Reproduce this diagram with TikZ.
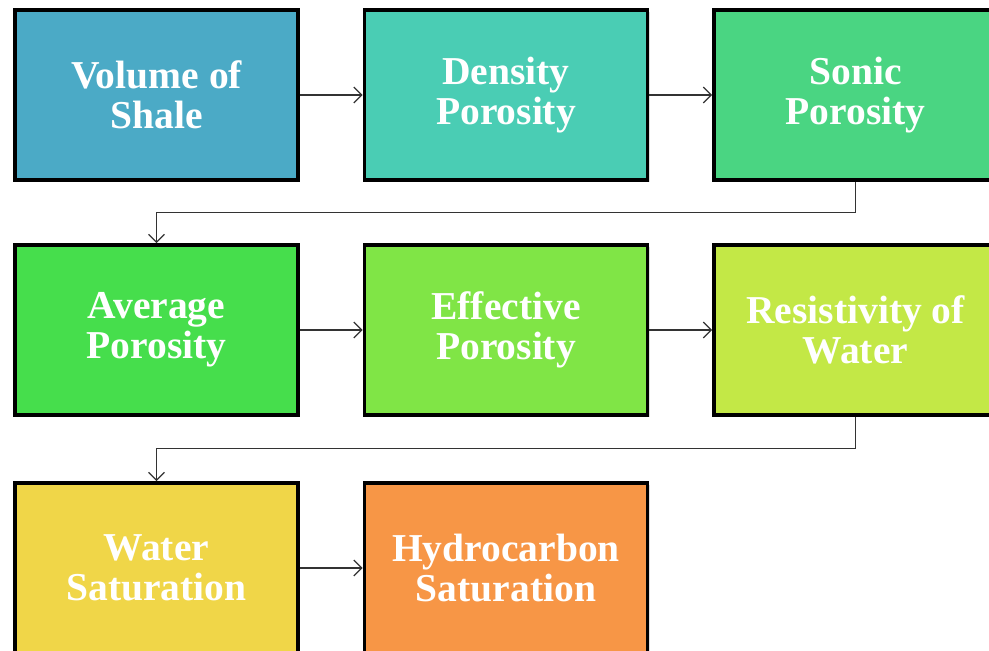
\documentclass[tikz,border=0pt]{standalone}
\usepackage{fontspec}
\setmainfont{Liberation Serif}
\usetikzlibrary{arrows.meta,shadows}
\definecolor{shalecol}{RGB}{75,170,198}
\definecolor{densecol}{RGB}{74,205,180}
\definecolor{soniccol}{RGB}{74,213,130}
\definecolor{avgcol}{RGB}{70,222,76}
\definecolor{effcol}{RGB}{128,229,70}
\definecolor{rescol}{RGB}{195,232,70}
\definecolor{watercol}{RGB}{240,214,72}
\definecolor{hydrocol}{RGB}{247,150,70}

\begin{document}
\begin{tikzpicture}[x=0.02cm,y=-0.02cm,
  >={Straight Barb[length=4.5pt,width=9pt]},
  stepbox/.style={draw=black,line width=0.075cm,minimum width=5.66cm,
    minimum height=3.4cm,inner sep=0pt,text=white,align=center,
    font=\fontsize{22.5}{22.7}\selectfont\bfseries,
    drop shadow={shadow xshift=1.2pt,shadow yshift=-1.2pt,opacity=0.25,fill=gray}},
  flow/.style={->,line width=0.7pt,draw=black!80}]
\useasboundingbox (0,0) rectangle (989,651);
% first row
\node[stepbox,fill=shalecol] (shale) at (156.5,95) {Volume of\\Shale};
\node[stepbox,fill=densecol] (dens) at (506,95) {Density\\Porosity};
\node[stepbox,fill=soniccol] (sonic) at (855.5,95) {Sonic\\Porosity};
% second row
\node[stepbox,fill=avgcol] (avg) at (156.5,330) {Average\\Porosity};
\node[stepbox,fill=effcol] (eff) at (506,330) {Effective\\Porosity};
\node[stepbox,fill=rescol] (resw) at (855.5,330) {Resistivity of\\Water};
% third row
\node[stepbox,fill=watercol] (wsat) at (156.5,568) {Water\\Saturation};
\node[stepbox,fill=hydrocol] (hsat) at (506,568) {Hydrocarbon\\Saturation};
% connectors
\draw[flow] (shale) -- (dens);
\draw[flow] (dens) -- (sonic);
\draw[flow] (sonic.south) -- ++(0,31) -| (avg.north);
\draw[flow] (avg) -- (eff);
\draw[flow] (eff) -- (resw);
\draw[flow] (resw.south) -- ++(0,32) -| (wsat.north);
\draw[flow] (wsat) -- (hsat);
\end{tikzpicture}
\end{document}
